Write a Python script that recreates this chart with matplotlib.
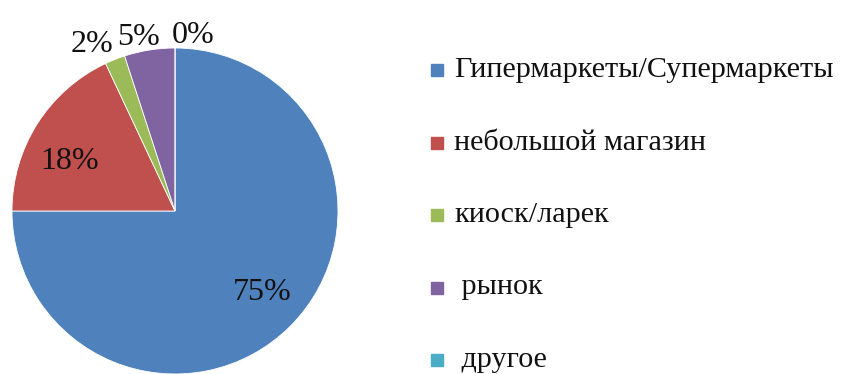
import matplotlib.pyplot as plt
import numpy as np

categories = ['Гипермаркеты/Супермаркеты', 'небольшой магазин', 'киоск/ларек', ' рынок', ' другое']
shares = [75, 18, 2, 5, 0]
colors = ['#4F81BD', '#C0504D', '#9BBB59', '#8064A2', '#4BACC6']

# where each percent label sits: distance from centre (in radii) and a small angle shift
label_r = [0.73, 0.715, 1.14, 1.09, 1.08]
label_shift = [2, 7, 5, 3, -6]

plt.rcParams['font.family'] = ['Liberation Serif', 'DejaVu Serif']

fig = plt.figure(figsize=(8.62, 3.74), dpi=100)
ax = fig.add_axes([12 / 862, 0, 326 / 862, 326 / 374])

wedges, _ = ax.pie(shares, colors=colors, startangle=90, counterclock=False,
                   radius=1, wedgeprops=dict(edgecolor='white', linewidth=0.6))
ax.set_xlim(-1, 1)
ax.set_ylim(-1, 1)
ax.set_aspect('equal')
ax.axis('off')

for w, v, r, s in zip(wedges, shares, label_r, label_shift):
    mid = np.deg2rad((w.theta1 + w.theta2) / 2 + s)
    ax.text(r * np.cos(mid), r * np.sin(mid), f'{v}%', fontsize=23,
            ha='center', va='center', color='#111111', clip_on=False)

# legend drawn by hand, one row per category
for i, (lab, col) in enumerate(zip(categories, colors)):
    y = 1 - (70 + 72.5 * i) / 374
    fig.patches.append(plt.Rectangle((431 / 862, y - 6 / 374), 12 / 862, 12 / 374,
                                     transform=fig.transFigure, color=col))
    fig.text(454 / 862, y, lab, fontsize=21.7, va='center', ha='left', color='#111111')

fig.savefig('out.png', dpi=100)
